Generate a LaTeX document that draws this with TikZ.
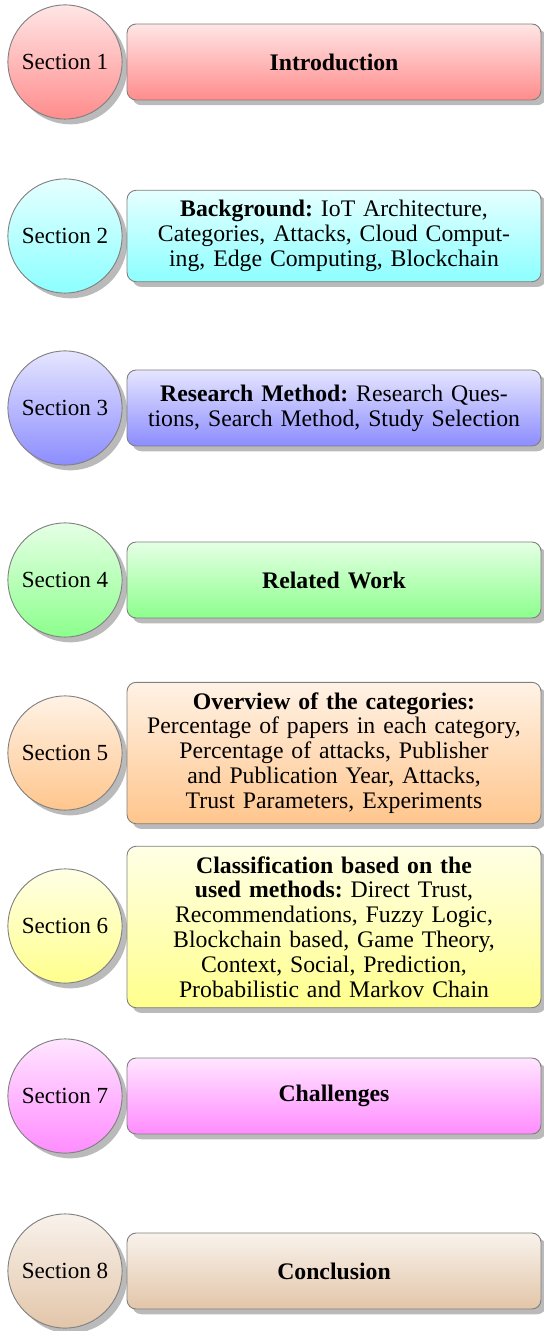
\documentclass[tikz,border=0pt]{standalone}
\usepackage{fontspec}
\setmainfont{Liberation Serif}
\usetikzlibrary{shadows}
\frenchspacing
\tikzset{
  secc/.style={circle, draw=black!50, line width=0.4pt, minimum size=50pt, inner sep=0pt,
    top color=#1!10, bottom color=#1!45, drop shadow={fill=black!45, opacity=0.6},
    font=\fontsize{10.1pt}{10.9pt}\selectfont},
  secbox/.style={rectangle, rounded corners=4pt, draw=black!50, line width=0.4pt,
    minimum width=181.3pt, minimum height=33.3pt, text width=172pt, align=center,
    inner sep=4.4pt,
    top color=#1!10, bottom color=#1!45, drop shadow={fill=black!45, opacity=0.6},
    font=\fontsize{10.4pt}{10.9pt}\selectfont}
}
\begin{document}
\begin{tikzpicture}[x=0.438pt, y=-0.438pt]
\useasboundingbox (0,0) rectangle (543,1331);
\node[secc=red]     (c1) at (65,62)   {Section 1};
\node[secbox=red]   (b1) at (334,62)  {\textbf{Introduction}};
\node[secc=cyan]    (c2) at (65,236)  {Section 2};
\node[secbox=cyan]  (b2) at (334,236) {\textbf{Background:} IoT Architecture,\\ Categories, Attacks, Cloud Comput-\\ ing, Edge Computing, Blockchain};
\node[secc=blue]    (c3) at (65,408)  {Section 3};
\node[secbox=blue]  (b3) at (334,408) {\textbf{Research Method:} Research Ques-\\ tions, Search Method, Study Selection};
\node[secc=green]   (c4) at (65,580)  {Section 4};
\node[secbox=green] (b4) at (334,580) {\textbf{Related Work}};
\node[secc=orange]  (c5) at (65,753)  {Section 5};
\node[secbox=orange](b5) at (334,753) {\textbf{Overview of the categories:}\\ Percentage of papers in each category,\\ Percentage of attacks, Publisher\\ and Publication Year, Attacks,\\ Trust Parameters, Experiments};
\node[secc=yellow]  (c6) at (65,926)  {Section 6};
\node[secbox=yellow](b6) at (334,927) {\textbf{Classification based on the}\\ \textbf{used methods:} Direct Trust,\\ Recommendations, Fuzzy Logic,\\ Blockchain based, Game Theory,\\ Context, Social, Prediction,\\ Probabilistic and Markov Chain};
\node[secc=magenta] (c7) at (65,1096) {Section 7};
\node[secbox=magenta](b7) at (334,1096) {\textbf{Challenges}};
\node[secc=brown]   (c8) at (65,1271) {Section 8};
\node[secbox=brown] (b8) at (334,1271) {\textbf{Conclusion}};
\end{tikzpicture}
\end{document}
